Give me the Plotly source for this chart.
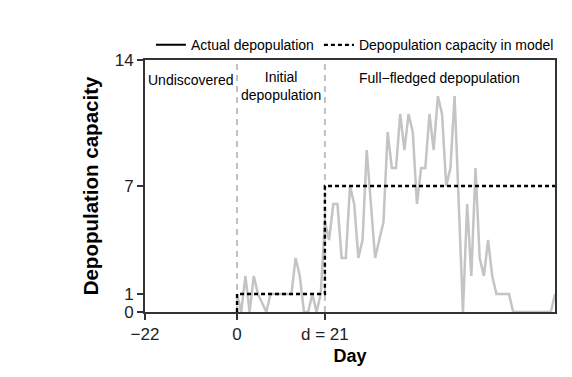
import plotly.graph_objects as go

# actual depopulation per day (starting at day 0)
days = list(range(0, 77))
actual = [1, 0, 2, 0, 2, 1, 0.5, 0, 1, 1, 1, 1, 1, 1, 3, 2, 0, 0, 1, 0,
          1, 5, 4, 6, 6, 3, 3, 7, 6, 3, 4, 9, 6, 3, 4, 5, 10, 8, 8, 11,
          9, 11, 10, 6, 8, 8, 11, 9, 12, 11, 7, 8, 12, 6, 0, 6, 2, 8, 3, 2,
          4, 2, 1, 1, 1, 1, 0, 0, 0, 0, 0, 0, 0, 0, 0, 0, 1]

# model capacity (step function)
model_x = [0, 0, 21, 21, 76]
model_y = [0, 1, 1, 7, 7]

phase_bounds = [0, 21]
x_ticks = [-22, 0, 21]
x_ticktext = ["\u221222", "0", "d = 21"]
y_ticks = [0, 1, 7, 14]

FONT = "Liberation Sans, Arial, sans-serif"

fig = go.Figure()
fig.add_trace(go.Scatter(x=days, y=actual, mode='lines', showlegend=False,
                         line=dict(color='#c4c4c4', width=2.5)))
# legend-only entry for the actual line (legend shows black)
fig.add_trace(go.Scatter(x=[None], y=[None], mode='lines', name='Actual depopulation',
                         line=dict(color='black', width=2)))
fig.add_trace(go.Scatter(x=model_x, y=model_y, mode='lines', name='Depopulation capacity in model',
                         line=dict(color='black', width=2.4, dash='4px,3px')))

# phase boundaries
for b in phase_bounds:
    fig.add_shape(type='line', x0=b, x1=b, y0=0, y1=14, xref='x', yref='y',
                  line=dict(color='#c0c0c0', width=2, dash='6px,5px'), layer='below')

# phase labels
fig.add_annotation(x=-11, y=12.9, text="Undiscovered", showarrow=False,
                   font=dict(size=14, color='black', family=FONT))
fig.add_annotation(x=10.5, y=12.55, text="Initial<br>depopulation", showarrow=False,
                   font=dict(size=14, color='black', family=FONT))
fig.add_annotation(x=48.5, y=13.0, text="Full\u2212fledged depopulation", showarrow=False,
                   font=dict(size=14, color='black', family=FONT))

fig.update_layout(
    width=572, height=377,
    plot_bgcolor='white', paper_bgcolor='white',
    margin=dict(l=137, r=25, t=52, b=73),
    font=dict(family=FONT, color='#222222', size=17),
    legend=dict(orientation='h', x=0.512, xanchor='center', y=0.995, yanchor='bottom',
                font=dict(size=14, color='black'), tracegroupgap=0,
                bgcolor='rgba(0,0,0,0)'),
    xaxis=dict(range=[-22, 76], tickvals=x_ticks, ticktext=x_ticktext,
               showgrid=False, zeroline=False, showline=True, mirror=True,
               linecolor='#333333', linewidth=2, ticks='outside', ticklen=6,
               tickwidth=2, tickcolor='#333333', layer='above traces',
               title=dict(text="<b>Day</b>", font=dict(size=18, color='black'), standoff=6)),
    yaxis=dict(range=[0, 14], tickvals=y_ticks,
               showgrid=False, zeroline=False, showline=True, mirror=True,
               linecolor='#333333', linewidth=2, ticks='outside', ticklen=6,
               tickwidth=2, tickcolor='#333333', layer='above traces',
               title=dict(text="<b>Depopulation capacity</b>", font=dict(size=20.5, color='black'),
                          standoff=11)),
)

fig.write_html("out.html")
